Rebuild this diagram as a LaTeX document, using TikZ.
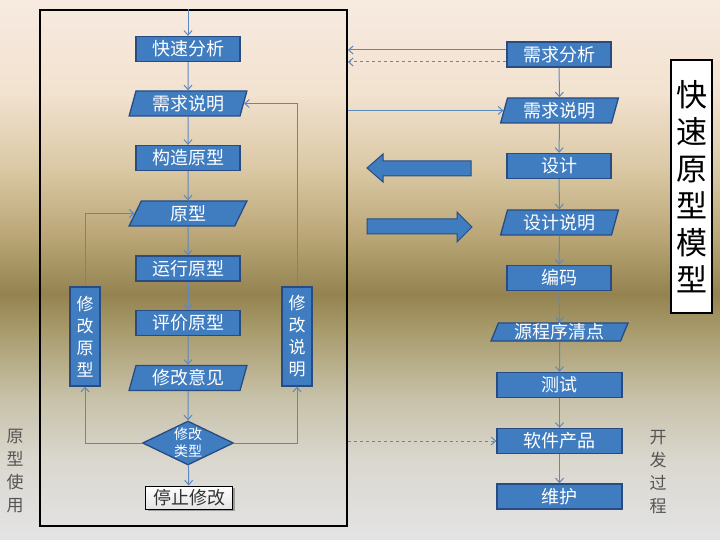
\documentclass[tikz,border=0pt]{standalone}
\usepackage{fontspec}
\setmainfont{Noto Sans CJK SC}
\usetikzlibrary{shapes.geometric,arrows.meta,shadows}

\definecolor{boxblue}{RGB}{64,124,192}
\definecolor{boxline}{RGB}{40,76,130}
\definecolor{linkblue}{RGB}{92,136,194}
\definecolor{labelgray}{RGB}{85,85,85}
\definecolor{bga}{RGB}{247,234,224}
\definecolor{bgb}{RGB}{242,226,208}
\definecolor{bgc}{RGB}{218,200,164}
\definecolor{bgd}{RGB}{184,164,116}
\definecolor{bge}{RGB}{148,131,80}
\definecolor{bgf}{RGB}{168,155,108}
\definecolor{bgg}{RGB}{200,194,170}
\definecolor{bgh}{RGB}{218,215,206}
\definecolor{bgi}{RGB}{228,228,230}
\pgfdeclareverticalshading{slidebg}{100bp}{color(0bp)=(bgi); color(25bp)=(bgi); color(32.4bp)=(bgh); color(38bp)=(bgg); color(44.4bp)=(bgf); color(47.8bp)=(bge); color(52.8bp)=(bgd); color(59.3bp)=(bgc); color(66.5bp)=(bgb); color(75bp)=(bga); color(100bp)=(bga)}

\begin{document}
\begin{tikzpicture}[x=1bp,y=-1bp]
    \tikzstyle{stepbox} = [draw=boxline, fill=boxblue, line width=1.3bp, text=white, minimum width=104bp, minimum height=25bp, inner sep=0pt, font=\fontsize{18bp}{20bp}\selectfont]
    \tikzstyle{databox} = [stepbox, trapezium, trapezium left angle=74, trapezium right angle=106, trapezium stretches=true, minimum width=118bp]
    \tikzstyle{sidebox} = [stepbox, minimum width=30bp, minimum height=99bp, align=center, font=\fontsize{17bp}{22bp}\selectfont]
    \tikzstyle{choice} = [stepbox, diamond, aspect=2, minimum width=91bp, minimum height=44bp, align=center, font=\fontsize{14bp}{17bp}\selectfont]
    \tikzstyle{stopbox} = [draw=black, line width=1bp, top color=white, bottom color=gray!22, text=black!80, minimum width=87bp, minimum height=23bp, inner sep=0pt, font=\fontsize{18bp}{20bp}\selectfont, drop shadow={shadow xshift=2bp, shadow yshift=-2bp, fill=gray, opacity=0.7}]
    \tikzstyle{flow} = [draw=linkblue, line width=1bp, -{Straight Barb[length=4.5bp, width=8bp]}]
    \tikzstyle{sidelabel} = [text=labelgray, align=center, inner sep=0pt, font=\fontsize{17bp}{23bp}\selectfont]
    \tikzstyle{blockarrow} = [draw=boxline, fill=boxblue, line width=1bp]

    \shade[shading=slidebg] (0,0) rectangle (720,540);

    \node[draw, line width=1.8bp, minimum width=307bp, minimum height=516bp, inner sep=0pt] (frame) at (193.5,268) {};

    \node[stepbox] (fast) at (188,49) {快速分析};
    \node[databox] (req) at (188,103.5) {需求说明};
    \node[stepbox] (build) at (188,158) {构造原型};
    \node[databox] (proto) at (188,213.5) {原型};
    \node[stepbox] (run) at (188,268.5) {运行原型};
    \node[stepbox] (eval) at (188,323) {评价原型};
    \node[databox] (opinion) at (188,378) {修改意见};
    \node[choice] (kind) at (188,443) {修改\\类型};
    \node[stopbox] (stop) at (189,497.5) {停止修改};
    \node[sidebox] (modp) at (85,336.5) {修\\改\\原\\型};
    \node[sidebox] (mods) at (297,336.5) {修\\改\\说\\明};

    \coordinate (entry) at (fast.north |- frame.north);
    \draw[flow] (entry) -- (fast);
    \draw[flow] (fast) -- (req);
    \draw[flow] (req) -- (build);
    \draw[flow] (build) -- (proto);
    \draw[flow] (proto) -- (run);
    \draw[flow] (run) -- (eval);
    \draw[flow] (eval) -- (opinion);
    \draw[flow] (opinion) -- (kind);
    \draw[flow] (kind) -- (stop);
    \draw[flow] (kind.west) -| (modp.south);
    \draw[flow] (modp.north) |- (proto.west);
    \draw[flow] (kind.east) -| (mods.south);
    \draw[flow] (mods.north) |- (req.east);

    \node[stepbox] (ana) at (559,54.5) {需求分析};
    \node[databox] (spec) at (559.5,110.5) {需求说明};
    \node[stepbox] (design) at (559,166) {设计};
    \node[databox] (dspec) at (559.5,222.5) {设计说明};
    \node[stepbox] (code) at (559,278) {编码};
    \node[databox, minimum width=137bp, minimum height=18bp, trapezium left angle=72, trapezium right angle=108] (list) at (559.5,332) {源程序清点};
    \node[stepbox, minimum width=125bp] (test) at (559.5,385) {测试};
    \node[stepbox, minimum width=125bp] (prod) at (559.5,441) {软件产品};
    \node[stepbox, minimum width=125bp] (maint) at (559.5,496.5) {维护};

    \draw[flow] (ana) -- (spec);
    \draw[flow] (spec) -- (design);
    \draw[flow] (design) -- (dspec);
    \draw[flow] (dspec) -- (code);
    \draw[flow] (code) -- (list);
    \draw[flow] (list) -- (test);
    \draw[flow] (test) -- (prod);
    \draw[flow] (prod) -- (maint);

    \coordinate (anaa) at ([yshift=4.5bp]ana.west);
    \coordinate (anab) at ([yshift=-7.5bp]ana.west);
    \draw[flow] (anaa) -- (anaa -| frame.east);
    \draw[flow, dashed] (anab) -- (anab -| frame.east);
    \draw[flow] (spec.west -| frame.east) -- (spec.west);
    \draw[flow, dashed] (prod.west -| frame.east) -- (prod.west);

    \filldraw[blockarrow] (471,161) -- (383,161) -- (383,154) -- (367,168) -- (383,182) -- (383,176) -- (471,176) -- cycle;
    \filldraw[blockarrow] (367,219) -- (457,219) -- (457,212) -- (472,227) -- (457,242) -- (457,234) -- (367,234) -- cycle;

    \node[draw, fill=white, line width=1.2bp, minimum width=41bp, minimum height=253bp, inner sep=0pt, align=center, font=\fontsize{31bp}{37bp}\selectfont] (title) at (691.5,186.5) {快\\速\\原\\型\\模\\型};
    \node[sidelabel] (uselabel) at (15,471) {原\\型\\使\\用};
    \node[sidelabel] (devlabel) at (658,472) {开\\发\\过\\程};
\end{tikzpicture}
\end{document}
